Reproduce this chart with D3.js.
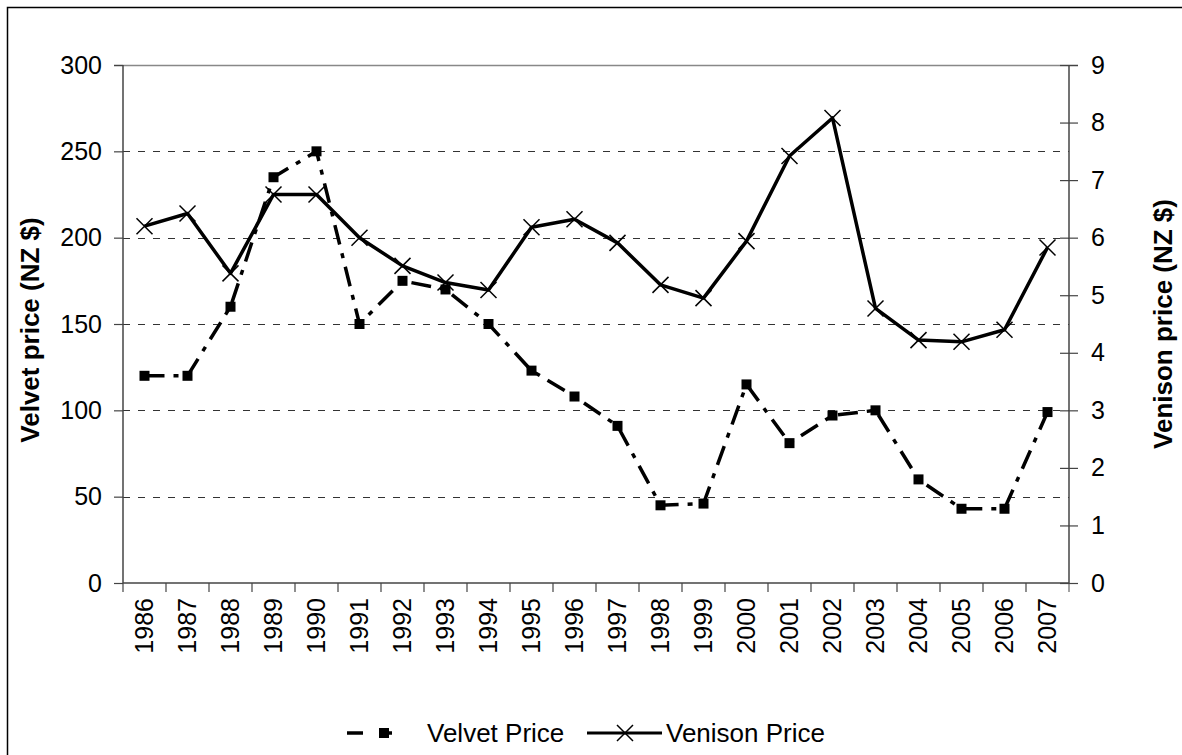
<!DOCTYPE html>
<html>
<head>
<meta charset="utf-8">
<script src="https://cdn.jsdelivr.net/npm/d3@7"></script>
<style>
  html, body { margin: 0; padding: 0; background: #fff; overflow: hidden; }
  svg { display: block; }
  text { font-family: "Liberation Sans", Arial, sans-serif; fill: #000; }
</style>
</head>
<body>
<div class="chart"></div>
<script>
(function () {
  'use strict';

  var years = ['1986', '1987', '1988', '1989', '1990', '1991', '1992', '1993', '1994', '1995', '1996',
               '1997', '1998', '1999', '2000', '2001', '2002', '2003', '2004', '2005', '2006', '2007'];
  var velvet = [120, 120, 160, 235, 250, 150, 175, 170, 150, 123, 108,
                91, 45, 46, 115, 81, 97, 100, 60, 43, 43, 99];
  var venison = [6.2, 6.42, 5.38, 6.75, 6.75, 6.0, 5.51, 5.22, 5.09, 6.18, 6.32,
                 5.91, 5.18, 4.95, 5.94, 7.42, 8.08, 4.77, 4.22, 4.19, 4.4, 5.83];
  var leftTicks = [0, 50, 100, 150, 200, 250, 300];
  var rightTicks = [0, 1, 2, 3, 4, 5, 6, 7, 8, 9];

  var W = 1182, H = 755;
  var margin = { top: 65, right: 113, bottom: 172, left: 123 };
  var width = W - margin.left - margin.right;
  var height = H - margin.top - margin.bottom;

  var x = d3.scaleBand().domain(years).range([0, width]);
  var y = d3.scaleLinear().domain([0, 300]).range([height, 0]);
  var y2 = d3.scaleLinear().domain([0, 9]).range([height, 0]);

  var svg = d3.select('.chart')
      .append('svg')
      .attr('width', W)
      .attr('height', H);

  // outer chart frame (right and bottom edges fall outside the picture)
  svg.append('rect')
     .attr('x', 7.5).attr('y', 7.5)
     .attr('width', W + 20).attr('height', H + 20)
     .attr('fill', 'none').attr('stroke', '#000').attr('stroke-width', 1.5);

  var g = svg.append('g')
      .attr('transform', 'translate(' + margin.left + ',' + margin.top + ')');

  // gridlines
  g.selectAll('.grid')
   .data(leftTicks.filter(function(d) { return d > 0 && d < 300; }))
   .enter()
   .append('line')
   .attr('x1', 0).attr('x2', width)
   .attr('y1', function(d) { return Math.round(y(d)) + 0.5; })
   .attr('y2', function(d) { return Math.round(y(d)) + 0.5; })
   .attr('stroke', '#333')
   .attr('stroke-dasharray', '7,8');

  // top border line
  g.append('line')
   .attr('x1', -9).attr('x2', width + 9)
   .attr('y1', 0.5).attr('y2', 0.5)
   .attr('stroke', '#888').attr('stroke-width', 1.5);

  var tickFont = '25px';

  var left = g.append('g')
     .call(d3.axisLeft(y).tickValues(leftTicks).tickSize(9).tickPadding(12));
  var right = g.append('g')
     .attr('transform', 'translate(' + width + ',0)')
     .call(d3.axisRight(y2).tickValues(rightTicks).tickSize(9).tickPadding(13));
  right.selectAll('.tick line').attr('x1', -9);
  var bottom = g.append('g')
     .attr('transform', 'translate(0,' + height + ')')
     .call(d3.axisBottom(x).tickSize(9).tickSizeOuter(9));

  // ticks at band edges instead of band centres
  bottom.selectAll('.tick line').attr('x1', -x.bandwidth() / 2).attr('x2', -x.bandwidth() / 2);
  bottom.append('line')
     .attr('x1', width).attr('x2', width).attr('y1', 0).attr('y2', 9)
     .attr('stroke', '#444');
  bottom.selectAll('.tick text')
     .attr('transform', 'rotate(-90)')
     .attr('x', -15).attr('y', 0).attr('dy', '0.35em')
     .style('text-anchor', 'end');

  [left, right, bottom].forEach(function(a) {
    a.select('.domain').attr('stroke', '#444').attr('stroke-width', 1.5);
    a.selectAll('.tick line').attr('stroke', '#444').attr('stroke-width', 1.2);
    a.selectAll('text').style('font-size', tickFont)
     .style('font-family', '"Liberation Sans", Arial, sans-serif').attr('fill', '#000');
  });
  left.select('.domain').attr('d', 'M0,0V' + height);
  right.select('.domain').attr('d', 'M0,0V' + height);
  bottom.select('.domain').attr('d', 'M0,0H' + width);

  // axis titles
  svg.append('text')
     .attr('transform', 'translate(30,' + (margin.top + height / 2 + 6) + ') rotate(-90)')
     .attr('text-anchor', 'middle').attr('dominant-baseline', 'central')
     .style('font-size', '26px').style('font-weight', 'bold')
     .text('Velvet price (NZ $)');
  svg.append('text')
     .attr('transform', 'translate(1163,' + (margin.top + height / 2) + ') rotate(-90)')
     .attr('text-anchor', 'middle').attr('dominant-baseline', 'central')
     .style('font-size', '26px').style('font-weight', 'bold')
     .text('Venison price (NZ $)');

  var cx = function(d, i) { return x(years[i]) + x.bandwidth() / 2; };

  // velvet series
  var velvetLine = d3.line()
     .x(function(d, i) { return cx(d, i); })
     .y(function(d) { return y(d); });
  g.append('path')
   .datum(velvet)
   .attr('d', velvetLine)
   .attr('fill', 'none')
   .attr('stroke', '#000')
   .attr('stroke-width', 3.5)
   .attr('stroke-dasharray', '20,9,5,9');
  g.selectAll('.vm')
   .data(velvet)
   .enter()
   .append('rect')
   .attr('x', function(d, i) { return cx(d, i) - 5; })
   .attr('y', function(d) { return y(d) - 5; })
   .attr('width', 10).attr('height', 10)
   .attr('fill', '#000');

  // venison series
  var venisonLine = d3.line()
     .x(function(d, i) { return cx(d, i); })
     .y(function(d) { return y2(d); });
  g.append('path')
   .datum(venison)
   .attr('d', venisonLine)
   .attr('fill', 'none')
   .attr('stroke', '#000')
   .attr('stroke-width', 3.5)
   .attr('stroke-linejoin', 'round');
  var cross = 'M-8,-8L8,8M-8,8L8,-8';
  g.selectAll('.xm')
   .data(venison)
   .enter()
   .append('path')
   .attr('transform', function(d, i) { return 'translate(' + cx(d, i) + ',' + y2(d) + ')'; })
   .attr('d', cross)
   .attr('stroke', '#000')
   .attr('stroke-width', 1.5);

  // legend
  var ly = 733;
  var leg = svg.append('g');
  leg.append('line')
     .attr('x1', 347).attr('x2', 420).attr('y1', ly).attr('y2', ly)
     .attr('stroke', '#000').attr('stroke-width', 3.5)
     .attr('stroke-dasharray', '16,16,13,30');
  leg.append('rect')
     .attr('x', 379).attr('y', ly - 5).attr('width', 10).attr('height', 10)
     .attr('fill', '#000');
  leg.append('text')
     .attr('x', 427).attr('y', ly).attr('dy', '0.35em')
     .style('font-size', '26px')
     .text('Velvet Price');
  leg.append('line')
     .attr('x1', 587).attr('x2', 662).attr('y1', ly).attr('y2', ly)
     .attr('stroke', '#000').attr('stroke-width', 3);
  leg.append('path')
     .attr('transform', 'translate(625,' + ly + ')')
     .attr('d', cross)
     .attr('stroke', '#000').attr('stroke-width', 1.5);
  leg.append('text')
     .attr('x', 666).attr('y', ly).attr('dy', '0.35em')
     .style('font-size', '26px')
     .text('Venison Price');
}());
</script>
</body>
</html>
